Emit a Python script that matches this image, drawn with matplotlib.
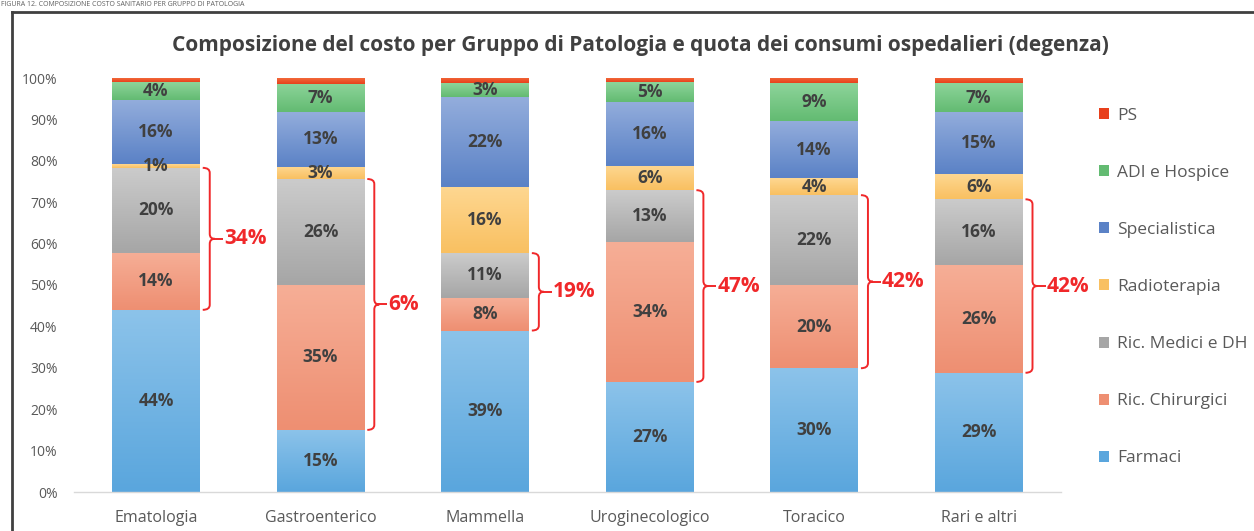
import matplotlib
matplotlib.use('Agg')
import matplotlib.pyplot as plt
import numpy as np
from matplotlib.path import Path
from matplotlib.patches import PathPatch, Patch
from matplotlib.colors import LinearSegmentedColormap
from matplotlib.lines import Line2D

plt.rcParams['font.family'] = ['Open Sans', 'DejaVu Sans']

categories = ['Ematologia', 'Gastroenterico', 'Mammella', 'Uroginecologico', 'Toracico', 'Rari e altri']

# valori (quote %)
farmaci = [44.0, 15.0, 39.0, 26.6, 29.9, 28.8]
chirurgici = [13.8, 35.0, 7.9, 33.8, 20.1, 26.0]
medici = [20.5, 25.6, 10.8, 12.5, 21.7, 15.9]
radioterapia = [0.9, 3.0, 16.0, 5.8, 4.1, 6.0]
specialistica = [15.6, 13.1, 21.7, 15.6, 13.8, 15.1]
adi = [4.3, 6.9, 3.3, 4.8, 9.1, 6.9]
ps = [0.9, 1.3, 1.3, 0.9, 1.3, 1.3]

lbl_farmaci = ['44%', '15%', '39%', '27%', '30%', '29%']
lbl_chirurgici = ['14%', '35%', '8%', '34%', '20%', '26%']
lbl_medici = ['20%', '26%', '11%', '13%', '22%', '16%']
lbl_radioterapia = ['1%', '3%', '16%', '6%', '4%', '6%']
lbl_specialistica = ['16%', '13%', '22%', '16%', '14%', '15%']
lbl_adi = ['4%', '7%', '3%', '5%', '9%', '7%']

quota_ospedaliera = ['34%', '6%', '19%', '47%', '42%', '42%']

series = [
    ('Farmaci', farmaci, lbl_farmaci, '#8cc3ea', '#5aa6dd'),
    ('Ric. Chirurgici', chirurgici, lbl_chirurgici, '#f6ae96', '#ee8f72'),
    ('Ric. Medici e DH', medici, lbl_medici, '#cbcbcb', '#a6a6a6'),
    ('Radioterapia', radioterapia, lbl_radioterapia, '#fed791', '#f9c061'),
    ('Specialistica', specialistica, lbl_specialistica, '#93addc', '#5b82c6'),
    ('ADI e Hospice', adi, lbl_adi, '#8dd49a', '#63bb72'),
    ('PS', ps, None, '#f26a3a', '#e8401c'),
]

W, H = 1254, 531
fig = plt.figure(figsize=(W / 100, H / 100), dpi=100)
ax = fig.add_axes([73.7 / W, 1 - 492 / H, (1061 - 73.7) / W, (492 - 78) / H])

x = np.arange(len(categories))
bar_w = 0.532
bottom = np.zeros(len(categories))
grad = np.linspace(1, 0, 64).reshape(-1, 1)

for name, vals, lbls, c_top, c_bot in series:
    vals = np.array(vals)
    bars = ax.bar(x, vals, bar_w, bottom=bottom, color=c_bot, linewidth=0, zorder=1)
    cmap = LinearSegmentedColormap.from_list(name, [c_bot, c_top])
    for b in bars:
        x0, y0 = b.get_x(), b.get_y()
        ax.imshow(grad, extent=[x0, x0 + b.get_width(), y0, y0 + b.get_height()],
                  cmap=cmap, aspect='auto', zorder=2, interpolation='bicubic', vmin=0, vmax=1)
    if lbls is not None:
        for xi, b0, v, t in zip(x, bottom, vals, lbls):
            ax.text(xi, b0 + v / 2, t, ha='center', va='center', fontsize=12.5,
                    fontweight='bold', color='#404040', zorder=3)
    bottom = bottom + vals

# parentesi graffe sui ricoveri (chirurgici + medici)
px_x = 1 / 164.5
px_y = 100 / 414
red = '#f0282a'
for xi, f, c, m, q in zip(x, farmaci, chirurgici, medici, quota_ospedaliera):
    y_bot = f
    y_top = f + c + m
    y_mid = (y_bot + y_top) / 2
    x0 = xi + bar_w / 2 + 3 * px_x
    xm = x0 + 7 * px_x
    xt = xm + 5 * px_x
    dy = 5 * px_y
    verts = [(x0, y_top), (xm, y_top), (xm, y_top - dy),
             (xm, y_mid + dy), (xm, y_mid), (xt, y_mid),
             (xm, y_mid), (xm, y_mid - dy),
             (xm, y_bot + dy), (xm, y_bot), (x0, y_bot)]
    codes = [Path.MOVETO, Path.CURVE3, Path.CURVE3,
             Path.LINETO, Path.CURVE3, Path.CURVE3,
             Path.CURVE3, Path.CURVE3,
             Path.LINETO, Path.CURVE3, Path.CURVE3]
    ax.add_patch(PathPatch(Path(verts, codes), fill=False, edgecolor=red, lw=1.4,
                           zorder=4, clip_on=False))
    ax.plot([xt, xt + 8 * px_x], [y_mid, y_mid], color=red, lw=1.4, zorder=4,
            solid_capstyle='butt')
    ax.text(xt + 9 * px_x, y_mid, q, ha='left', va='center', fontsize=15,
            fontweight='bold', color=red, zorder=5)

ax.set_xlim(-0.5, len(categories) - 0.5)
ax.set_ylim(0, 100)
ax.set_yticks(np.arange(0, 101, 10))
ax.set_yticklabels([f'{v}%' for v in range(0, 101, 10)])
ax.set_xticks(x)
ax.set_xticklabels(categories)
ax.tick_params(axis='y', length=0, pad=11.5, labelsize=10, labelcolor='#595959')
ax.tick_params(axis='x', length=0, pad=13, labelsize=11.5, labelcolor='#595959')
for s in ['top', 'right', 'left']:
    ax.spines[s].set_visible(False)
ax.spines['bottom'].set_color('#d9d9d9')
ax.spines['bottom'].set_linewidth(1.0)

fig.text(640 / W, 1 - 45 / H, 'Composizione del costo per Gruppo di Patologia e quota dei consumi ospedalieri (degenza)',
         ha='center', va='center', fontsize=15, fontweight='bold', color='#404040')

handles = [Patch(facecolor=s[4], edgecolor='none') for s in series[::-1]]
labels = [s[0] for s in series[::-1]]
fig.legend(handles, labels, loc='center left', bbox_to_anchor=(1083 / W, 1 - 287 / H),
           frameon=False, fontsize=12.5, handlelength=0.6, handleheight=0.6,
           handletextpad=0.45, labelspacing=2.37, labelcolor='#595959')

# cornice e didascalia (tagliata nell'originale)
fig.add_artist(Line2D([12 / W, 12 / W], [0, 1 - 12 / H], color='#404040', lw=2))
fig.add_artist(Line2D([12 / W, 1], [1 - 12 / H, 1 - 12 / H], color='#404040', lw=2))
fig.text(1 / W, 1 - 1 / H, 'FIGURA 12. COMPOSIZIONE COSTO SANITARIO PER GRUPPO DI PATOLOGIA',
         ha='left', va='top', fontsize=5, color='#606060')

fig.savefig('out.png', dpi=100)
